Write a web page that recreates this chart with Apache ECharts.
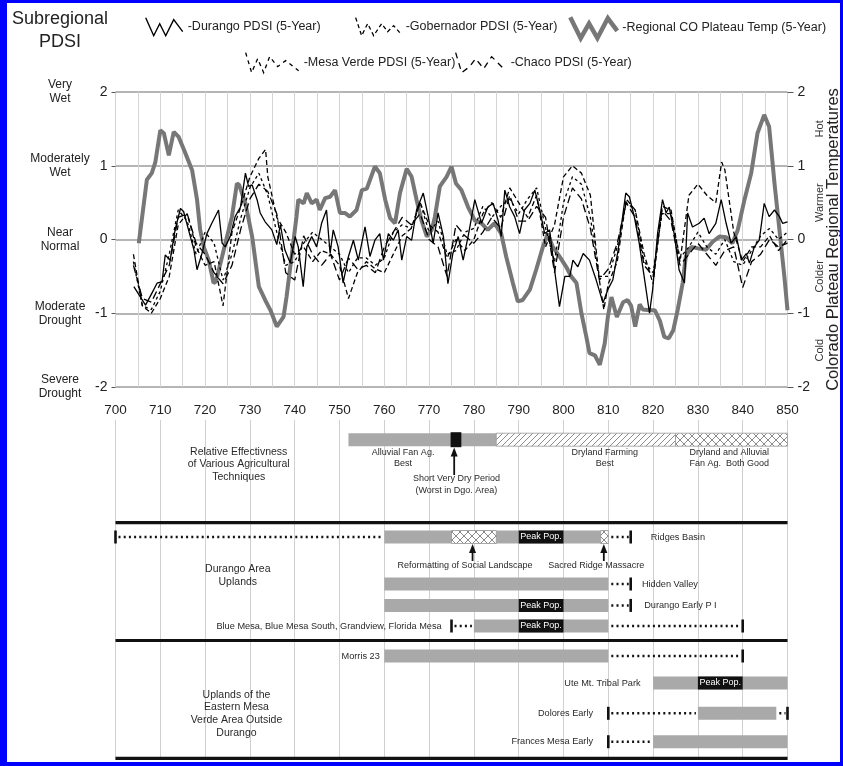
<!DOCTYPE html>
<html><head><meta charset="utf-8">
<script src="https://cdn.jsdelivr.net/npm/echarts@6/dist/echarts.min.js"></script>
<style>
html,body{margin:0;padding:0;background:#fff;}
#chart{width:843px;height:766px;}
#frame{position:absolute;left:0;top:0;width:843px;height:766px;box-sizing:border-box;border-style:solid;border-color:#0000ff;border-width:3px 3px 4px 7px;pointer-events:none;}
</style></head><body>
<div id="chart"></div><div id="frame"></div>
<script>
// ---------------- DATA ----------------
// Regional Colorado Plateau temperature (5-year), [year, value]
const tempCO = [[705.2,-0.05],[707,0.81],[708.1,0.9],[708.9,1.05],[710,1.48],[710.8,1.44],[711.9,1.14],[713,1.46],[714.1,1.39],[715.6,1.17],[717.1,0.94],[718.2,0.54],[718.9,0.13],[719.7,-0.1],[720.8,-0.28],[721.9,-0.59],[722.4,-0.57],[723.8,-0.23],[724.9,0.04],[726,0.31],[727.1,0.76],[727.6,0.74],[729,0.49],[730.5,0.04],[732,-0.64],[733.4,-0.82],[734.6,-0.96],[736,-1.18],[737.5,-1.05],[738.2,-0.77],[739.3,-0.23],[740.4,0.31],[740.8,0.54],[742,0.49],[742.7,0.63],[743.8,0.49],[744.9,0.54],[745.6,0.4],[746.8,0.56],[747.9,0.58],[749,0.67],[750.1,0.36],[751.2,0.36],[752.3,0.31],[753.8,0.4],[755,0.67],[756.1,0.69],[757.9,0.99],[759,0.9],[760.2,0.54],[761.3,0.29],[762.4,0.22],[763.5,0.63],[765,0.96],[766.1,0.85],[767.2,0.54],[768.3,0.26],[769.5,0.04],[770.6,0.13],[771.3,0.31],[772.4,0.72],[773.9,0.85],[775,0.99],[776,0.76],[777.2,0.67],[778.7,0.44],[780.2,0.26],[781.7,0.22],[783.1,0.13],[784.6,0.22],[786.1,0.08],[787.2,-0.23],[788.7,-0.59],[789.8,-0.84],[790.9,-0.82],[792.5,-0.68],[793.9,-0.41],[795.4,-0.1],[796.5,0.08],[797.6,-0.1],[799.1,-0.23],[800.6,-0.37],[801.7,-0.5],[802.9,-0.59],[804,-1.0],[805.1,-1.32],[805.8,-1.54],[807,-1.57],[808.1,-1.7],[809.2,-1.41],[809.9,-1.05],[810.7,-0.78],[811.9,-1.05],[813.3,-0.85],[814.3,-0.82],[815.1,-0.9],[816,-1.18],[817,-0.88],[817.7,-0.95],[819.3,-0.96],[820.4,-0.96],[821.5,-1.1],[822.5,-1.32],[823.5,-1.34],[824.5,-1.23],[825.5,-0.95],[826.6,-0.59],[827.3,-0.23],[828.5,-0.1],[830,-0.12],[831.8,-0.14],[833.3,-0.03],[834.8,0.04],[836.3,0.03],[837.7,-0.05],[838.9,0.13],[840.4,0.54],[841.9,0.9],[843.3,1.44],[844.8,1.69],[845.9,1.53],[847.1,0.76],[848.2,0.13],[849.3,-0.5],[850,-0.96]];

const durangoPDSI = [[704.1,-0.64],[706.7,-0.89],[708.1,-0.73],[709.3,-0.59],[710.4,-0.57],[711.1,-0.21],[712.2,-0.28],[713.3,0.13],[714.5,0.42],[715.2,0.38],[716.3,0.13],[717.5,-0.14],[718.2,-0.41],[719.3,-0.19],[720.4,0.08],[721.5,0.22],[723,0.4],[723.8,-0.05],[724.5,-0.1],[725.6,0.04],[726.7,0.31],[727.9,0.44],[729,0.9],[729.7,0.72],[730.5,0.74],[731.6,0.54],[732.3,0.36],[733.4,0.24],[734.9,0.13],[736,-0.07],[736.8,0.2],[737.8,-0.14],[739,-0.32],[740.1,0.04],[740.8,-0.1],[741.9,-0.64],[742.7,-0.1],[743.8,0.04],[744.9,-0.1],[746,0.22],[747.1,0.4],[747.9,-0.19],[748.6,0.13],[749.7,-0.1],[750.8,-0.59],[752,-0.23],[753.1,-0.01],[754.2,-0.28],[755.7,0.17],[756.8,-0.23],[757.9,-0.01],[759,0.08],[759.8,-0.28],[760.9,0.08],[762,-0.01],[763.1,0.13],[763.9,-0.28],[765,0.04],[766.1,-0.01],[767.2,0.4],[768.7,0.63],[769.8,0.31],[770.9,-0.05],[772,0.36],[773.2,0.04],[774.2,-0.6],[775.3,-0.19],[776.5,0.04],[777.6,-0.28],[778.7,0.04],[780.2,0.54],[781.7,0.22],[783.1,0.44],[784.3,0.49],[785.4,0.26],[786.1,0.04],[786.9,0.67],[788,0.44],[789.1,0.31],[790.2,0.08],[791.3,0.4],[792.5,0.49],[793.6,0.67],[794.7,0.4],[795.8,0.08],[796.9,0.13],[798,-0.41],[799.1,-0.91],[800.3,-0.5],[801.4,-0.5],[802.1,-0.28],[803.2,-0.37],[804.4,-0.19],[805.8,-0.28],[807.3,-0.55],[808.8,-0.86],[809.9,-0.68],[811,-0.55],[812.2,-0.14],[812.8,0.13],[813.9,0.63],[814.7,0.58],[815.8,0.31],[816.9,-0.05],[818,-0.5],[819.2,-1.0],[819.9,-0.68],[821,0.08],[822.1,0.54],[822.9,0.36],[823.6,0.44],[824.7,0.08],[825.8,-0.41],[827,-0.59],[827.7,0.36],[828.8,0.17],[830.3,0.22],[831.4,0.29],[832.5,0.08],[834,0.22],[835.2,0.54],[836.3,0.22],[837.4,-0.05],[838.6,0.04],[839.7,-0.28],[840.8,-0.19],[841.5,-0.32],[842.6,-0.1],[843.7,-0.01],[844.8,0.49],[845.9,0.31],[847.1,0.4],[848.2,0.31],[848.9,0.22],[850,0.24]];

const gobernadorPDSI = [[704,-0.2],[706,-0.9],[708,-1.0],[710,-0.8],[712,-0.5],[714,0.2],[716,0.35],[718,-0.1],[720,-0.35],[722,-0.3],[724,-0.9],[726,0.1],[728,0.45],[730,0.85],[732,1.1],[733.5,1.22],[734,0.85],[736,0.3],[738,0.1],[740,-0.2],[742,-0.1],[744,-0.3],[746,-0.15],[748,-0.2],[750,-0.35],[752,-0.8],[754,-0.45],[756,-0.3],[758,-0.4],[760,-0.45],[762,-0.2],[764,0.05],[766,0.15],[768,0.5],[770,0.2],[772,0.1],[774,-0.25],[776,0.0],[778,-0.15],[780,0.0],[782,0.35],[784,0.5],[786,0.3],[788,0.7],[790,0.5],[792,0.3],[794,0.6],[796,-0.1],[798,0.2],[800,0.85],[802,1.0],[804,0.9],[806,0.6],[808,-0.55],[809,-0.95],[810,-0.6],[812,-0.3],[814,0.55],[816,0.4],[818,-0.2],[820,-0.6],[822,0.45],[824,0.4],[826,-0.3],[828,0.6],[830,0.75],[832,0.6],[834,0.5],[835.3,1.05],[836,0.95],[838,0.1],[840,-0.3],[842,-0.1],[844,-0.1],[846,0.05],[848,-0.15],[850,0.0]];

const mesaVerdePDSI = [[704,-0.3],[706,-0.9],[708,-0.95],[710,-0.7],[712,-0.2],[714,0.4],[716,0.25],[718,-0.2],[720,0.1],[722,-0.05],[724,-0.55],[726,-0.2],[728,0.3],[730,0.7],[732,0.9],[734,0.6],[736,0.1],[738,-0.35],[740,-0.3],[742,-0.05],[744,0.1],[746,0.0],[748,-0.1],[750,-0.2],[752,-0.45],[754,-0.25],[756,-0.25],[758,-0.35],[760,-0.25],[762,0.1],[764,0.2],[766,0.15],[768,0.5],[770,0.1],[772,0.25],[774,-0.2],[776,-0.15],[778,0.1],[780,0.15],[782,0.45],[784,0.3],[786,0.45],[788,0.55],[790,0.35],[792,0.55],[794,0.7],[796,0.15],[798,-0.3],[800,0.5],[802,0.85],[804,0.75],[806,0.3],[808,-0.5],[810,-0.5],[812,-0.1],[814,0.5],[816,0.4],[818,-0.3],[820,-0.45],[822,0.35],[824,0.35],[826,-0.25],[828,-0.1],[830,0.1],[832,-0.1],[834,-0.2],[836,0.0],[838,-0.3],[840,-0.35],[842,-0.15],[844,0.05],[846,0.15],[848,0.0],[850,0.1]];

const chacoPDSI = [[704,-0.35],[706,-0.8],[708,-0.85],[710,-0.6],[712,-0.35],[714,0.3],[716,0.35],[718,-0.05],[720,-0.2],[722,-0.45],[724,-0.6],[726,-0.35],[728,0.15],[730,0.55],[732,0.75],[734,0.65],[736,0.35],[738,-0.45],[740,-0.55],[742,0.05],[744,-0.2],[746,-0.35],[748,-0.2],[750,-0.55],[752,-0.25],[754,-0.4],[756,-0.35],[758,-0.45],[760,-0.1],[762,0.1],[764,0.3],[766,0.2],[768,0.35],[770,0.0],[772,-0.1],[774,-0.5],[776,0.2],[778,0.05],[780,-0.05],[782,0.1],[784,0.3],[786,0.15],[788,0.6],[790,0.25],[792,0.25],[794,0.45],[796,0.3],[798,-0.45],[800,0.3],[802,0.7],[804,0.55],[806,0.15],[808,-0.55],[810,-0.4],[812,-0.05],[814,0.5],[816,0.3],[818,-0.35],[820,-0.5],[822,0.4],[824,0.25],[826,-0.35],[828,-0.2],[830,-0.05],[832,-0.2],[834,-0.35],[836,-0.15],[838,-0.1],[840,-0.65],[842,-0.3],[844,-0.2],[846,0.0],[848,-0.1],[850,-0.05]];

const pdsiClassLabels = {'2':'Very\nWet','1':'Moderately\nWet','0':'Near\nNormal','-1':'Moderate\nDrought','-2':'Severe\nDrought'};
const tempClassLabels = {'1.5':'Hot','0.5':'Warmer','-0.5':'Colder','-1.5':'Cold'};

// Occupation / technique timeline: [row, startYear, endYear]
const occupations = [['tech',752,785],['ridges',760,810],['hidden',760,810],['durangoEarly',760,810],['blueMesa',780,810],['morris',760,810],['ute',820,850],['dolores',830,847.5],['frances',820,850]];
const peakPeriods = [['ridges',790,800],['durangoEarly',790,800],['blueMesa',790,800],['ute',830,840]];
const veryDryPeriods = [['tech',774.8,777.2]];
const drylandPeriods = [['tech',785,825]];
const mixedPeriods = [['tech',825,850],['ridges',775,785],['ridges',808.3,810]];
const dottedSpans = [['ridges',700,760],['ridges',810,815],['hidden',810,815],['durangoEarly',810,815],['blueMesa',775,780],['blueMesa',810,840],['morris',810,840],['dolores',810,830],['dolores',847.5,850],['frances',810,820]];
const endMarks = [['ridges',700],['ridges',815],['hidden',815],['durangoEarly',815],['blueMesa',775],['blueMesa',840],['morris',840],['dolores',810],['dolores',850],['frances',810]];
const siteLabels = [['ridges',819.5,'Ridges Basin','left'],['hidden',817.5,'Hidden Valley','left'],['durangoEarly',818,'Durango Early P I','left'],['blueMesa',772.8,'Blue Mesa, Blue Mesa South, Grandview, Florida Mesa','right'],['morris',759,'Morris 23','right'],['ute',817.2,'Ute Mt. Tribal Park','right'],['dolores',806.6,'Dolores Early','right'],['frances',806.6,'Frances Mesa Early','right']];
const noteLabels = [['techNote',764.2,'Alluvial Fan Ag.\nBest'],['techNote',809.2,'Dryland Farming\nBest'],['techNote',837,'Dryland and Alluvial\nFan Ag.  Both Good'],['dryNote',776.1,'Short Very Dry Period\n(Worst in Dgo. Area)'],['eventNote',778,'Reformatting of Social Landscape'],['eventNote',807.3,'Sacred Ridge Massacre']];
const sectionTitles = [['techTitle',727.5,'Relative Effectivness\nof Various Agricultural\nTechniques'],['durangoTitle',727.3,'Durango Area\nUplands'],['eastTitle',727,'Uplands of the\nEastern Mesa\nVerde Area Outside\nDurango']];
const eventArrows = [[775.6,'dryArrowFrom','techArrowTo'],[779.7,'eventArrowFrom','ridgesArrowTo'],[809,'eventArrowFrom','ridgesArrowTo']];
const sectionRules = [['sep1',700,850],['sep2',700,850],['sep3',700,850]];

// lane positions on the timeline axis (0 = top, 34 = bottom)
const LANE = {tech:1.97, techNote:3.8, techArrowTo:2.75, dryArrowFrom:5.5, dryNote:6.45, techTitle:4.45, sep1:10.27, ridges:11.7, ridgesArrowTo:12.4, eventArrowFrom:14.1, eventNote:14.6, durangoTitle:15.55, hidden:16.4, durangoEarly:18.54, blueMesa:20.6, sep2:22.05, morris:23.6, ute:26.3, eastTitle:29.37, dolores:29.33, frances:32.17, sep3:33.83};

// ---------------- RENDER ----------------
const FONT = "'Liberation Sans', Arial, Helvetica, sans-serif";
const BAR_H = 13;

function makePattern(cross) {
  const n = cross ? 8 : 6;
  const c = document.createElement('canvas'); c.width = n; c.height = n;
  const g = c.getContext('2d');
  g.fillStyle = '#fff'; g.fillRect(0,0,n,n);
  g.strokeStyle = '#8a8a8a'; g.lineWidth = 1;
  g.beginPath();
  g.moveTo(0,n); g.lineTo(n,0); g.moveTo(-1,1); g.lineTo(1,-1); g.moveTo(n-1,n+1); g.lineTo(n+1,n-1);
  if (cross) { g.moveTo(0,0); g.lineTo(n,n); g.moveTo(-1,n-1); g.lineTo(1,n+1); g.moveTo(n-1,-1); g.lineTo(n+1,1); }
  g.stroke();
  return {image: c, repeat: 'repeat'};
}
const hatchFill = makePattern(false);
const crossFill = makePattern(true);

const spanData = arr => arr.map(d => [d[1], d[2], LANE[d[0]]]);
function span(api) {
  const a = api.coord([api.value(0), api.value(2)]);
  const b = api.coord([api.value(1), api.value(2)]);
  return {x0:a[0], x1:b[0], y:a[1]};
}
function rectSeries(arr, styleFn, extra, h) {
  const hh = h || BAR_H;
  return {type:'custom', xAxisIndex:1, yAxisIndex:4, silent:true, encode:{x:[0,1], y:2}, data: spanData(arr),
    renderItem:(p, api) => {
      const s = span(api);
      const rect = {type:'rect', shape:{x:s.x0, y:s.y-hh/2, width:s.x1-s.x0, height:hh}, style:styleFn()};
      if (!extra) return rect;
      return {type:'group', children:[rect, extra(s)]};
    }};
}
function lineSeriesPDSI(name, data, dash) {
  return {name, type:'line', xAxisIndex:0, yAxisIndex:0, data, symbol:'none', z:3,
    lineStyle:{color:'#000', width:1.3, type: dash || 'solid'}, emphasis:{disabled:true}};
}
function legendOne(name, left, top, w, h, icon, style) {
  return {data:[{name, icon}], left, top, itemWidth:w, itemHeight:h, padding:0, selectedMode:false,
    formatter:'-{name}', textStyle:{fontSize:12.5, color:'#222', fontFamily:FONT},
    itemStyle:Object.assign({color:'rgba(0,0,0,0)'}, style)};
}

const option = {
  animation:false,
  backgroundColor:'#fff',
  textStyle:{fontFamily:FONT},
  graphic:[{type:'text', x:60, y:8, style:{text:'Subregional\nPDSI', align:'center', verticalAlign:'top', fontSize:18, lineHeight:23, fill:'#222', fontFamily:FONT}}],
  legend:[
    legendOne('Durango PDSI (5-Year)',145,17,37,20,'path://M0,1 L8,19 L14,7 L20,19 L28,3 L37,15',{borderColor:'#000',borderWidth:1.4}),
    legendOne('Gobernador PDSI (5-Year)',355,17,45,20,'path://M0,0 L6,18 L12,6 L18,18 L26,6 L32,14 L38,8 L45,16',{borderColor:'#000',borderWidth:1.3,borderType:[4,3]}),
    legendOne('Regional CO Plateau Temp (5-Year)',568,15,47,24,'path://M2,2 L12,22 L20,8 L28,22 L38,3 L47,15',{borderColor:'#777',borderWidth:4.5}),
    legendOne('Mesa Verde PDSI (5-Year)',245,52,53,22,'path://M0,0 L6,20 L12,6 L18,20 L24,4 L32,14 L40,8 L53,18',{borderColor:'#000',borderWidth:1.3,borderType:[4,4]}),
    legendOne('Chaco PDSI (5-Year)',455,52,50,22,'path://M0,0 L6,20 L14,14 L20,6 L28,16 L36,4 L50,18',{borderColor:'#000',borderWidth:1.3,borderType:[6,5]})
  ],
  grid:[{left:115.5, right:55.5, top:92, height:295, outerBoundsMode:'none', containLabel:false},
        {left:115.5, right:55.5, top:420, height:340, outerBoundsMode:'none', containLabel:false}],
  xAxis:[
    {type:'value', gridIndex:0, min:700, max:850, interval:5, axisLine:{show:false}, axisTick:{show:false},
     axisLabel:{fontSize:13.5, color:'#222', margin:16, formatter:v => (v % 10 === 0 ? String(v) : '')},
     splitLine:{show:true, lineStyle:{color:'#d4d4d4', width:1}}},
    {type:'value', gridIndex:1, min:700, max:850, interval:10, axisLine:{show:false}, axisTick:{show:false}, axisLabel:{show:false},
     splitLine:{show:true, lineStyle:{color:'#d0d0d0', width:1}}}
  ],
  yAxis:[
    {type:'value', gridIndex:0, position:'left', min:-2, max:2, interval:1, axisLine:{show:false},
     axisTick:{show:true, length:4, lineStyle:{color:'#555'}}, axisLabel:{fontSize:14, color:'#222', margin:8},
     splitLine:{show:true, lineStyle:{color:'#9c9c9c', width:1.5}}},
    {type:'value', gridIndex:0, position:'left', min:-2, max:2, interval:1, axisLine:{show:false}, axisTick:{show:false}, splitLine:{show:false},
     axisLabel:{margin:55.5, align:'center', fontSize:12, lineHeight:14, color:'#222', formatter:v => pdsiClassLabels[String(v)] || ''}},
    {type:'value', gridIndex:0, position:'right', min:-2, max:2, interval:1, axisLine:{show:false},
     axisTick:{show:true, length:6, lineStyle:{color:'#555'}}, axisLabel:{fontSize:14, color:'#222', margin:10}, splitLine:{show:false}},
    {type:'value', gridIndex:0, position:'right', min:-2, max:2, interval:0.5, name:'Colorado Plateau Regional Temperatures',
     nameLocation:'middle', nameRotate:90, nameGap:37, nameMoveOverlap:false, nameTextStyle:{fontSize:16.5, color:'#222'},
     axisLine:{show:false}, axisTick:{show:false}, splitLine:{show:false},
     axisLabel:{rotate:90, margin:27, fontSize:11, color:'#333', formatter:v => tempClassLabels[String(v)] || ''}},
    {type:'value', gridIndex:1, min:0, max:34, inverse:true, show:false}
  ],
  series:[
    {name:'Regional CO Plateau Temp (5-Year)', type:'line', xAxisIndex:0, yAxisIndex:2, data:tempCO, symbol:'none', z:2,
     lineStyle:{color:'#777', width:4}, emphasis:{disabled:true}},
    lineSeriesPDSI('Durango PDSI (5-Year)', durangoPDSI),
    lineSeriesPDSI('Gobernador PDSI (5-Year)', gobernadorPDSI, [5,3]),
    lineSeriesPDSI('Mesa Verde PDSI (5-Year)', mesaVerdePDSI, [3,3]),
    lineSeriesPDSI('Chaco PDSI (5-Year)', chacoPDSI, [8,4]),
    // timeline
    rectSeries(occupations, () => ({fill:'#a9a9a9'})),
    rectSeries(drylandPeriods, () => ({fill:hatchFill, stroke:'#999', lineWidth:0.8})),
    rectSeries(mixedPeriods, () => ({fill:crossFill, stroke:'#999', lineWidth:0.8})),
    rectSeries(veryDryPeriods, () => ({fill:'#111'}), null, 15),
    rectSeries(peakPeriods, () => ({fill:'#111'}), s => ({type:'text', x:(s.x0+s.x1)/2, y:s.y,
      style:{text:'Peak Pop.', align:'center', verticalAlign:'middle', fontSize:9, fill:'#fff', fontFamily:FONT}})),
    {type:'custom', xAxisIndex:1, yAxisIndex:4, silent:true, encode:{x:[0,1], y:2}, data:spanData(dottedSpans),
     renderItem:(p, api) => { const s = span(api);
       return {type:'line', shape:{x1:s.x0+3, y1:s.y, x2:s.x1-2, y2:s.y}, style:{stroke:'#111', lineWidth:2.5, lineDash:[2,3.2]}}; }},
    {type:'custom', xAxisIndex:1, yAxisIndex:4, silent:true, encode:{x:0, y:1}, data:endMarks.map(d => [d[1], LANE[d[0]]]),
     renderItem:(p, api) => { const c = api.coord([api.value(0), api.value(1)]);
       return {type:'line', shape:{x1:c[0], y1:c[1]-6.5, x2:c[0], y2:c[1]+6.5}, style:{stroke:'#111', lineWidth:2.6}}; }},
    {type:'custom', xAxisIndex:1, yAxisIndex:4, silent:true, encode:{x:[0,1], y:2}, data:spanData(sectionRules),
     renderItem:(p, api) => { const s = span(api);
       return {type:'line', shape:{x1:s.x0, y1:s.y, x2:s.x1, y2:s.y}, style:{stroke:'#111', lineWidth:3.2}}; }},
    {type:'custom', xAxisIndex:1, yAxisIndex:4, silent:true, encode:{x:0, y:1}, data:eventArrows.map(d => [d[0], LANE[d[1]], LANE[d[2]]]),
     renderItem:(p, api) => { const a = api.coord([api.value(0), api.value(1)]); const b = api.coord([api.value(0), api.value(2)]);
       return {type:'group', children:[
         {type:'line', shape:{x1:a[0], y1:a[1], x2:b[0], y2:b[1]+6}, style:{stroke:'#111', lineWidth:1.8}},
         {type:'polygon', shape:{points:[[b[0],b[1]],[b[0]-3.5,b[1]+9],[b[0]+3.5,b[1]+9]]}, style:{fill:'#111'}}]}; }},
    {type:'custom', xAxisIndex:1, yAxisIndex:4, silent:true, encode:{x:0, y:1}, data:siteLabels.map(d => [d[1], LANE[d[0]]]),
     renderItem:(p, api) => { const c = api.coord([api.value(0), api.value(1)]); const d = siteLabels[p.dataIndex];
       return {type:'text', x:c[0], y:c[1], style:{text:d[2], align:d[3], verticalAlign:'middle', fontSize:9.2, fill:'#2a2a2a', fontFamily:FONT}}; }},
    {type:'custom', xAxisIndex:1, yAxisIndex:4, silent:true, encode:{x:0, y:1}, data:noteLabels.map(d => [d[1], LANE[d[0]]]),
     renderItem:(p, api) => { const c = api.coord([api.value(0), api.value(1)]); const d = noteLabels[p.dataIndex];
       return {type:'text', x:c[0], y:c[1], style:{text:d[2], align:'center', verticalAlign:'middle', fontSize:9, lineHeight:11.5, fill:'#2a2a2a', fontFamily:FONT}}; }},
    {type:'custom', xAxisIndex:1, yAxisIndex:4, silent:true, encode:{x:0, y:1}, data:sectionTitles.map(d => [d[1], LANE[d[0]]]),
     renderItem:(p, api) => { const c = api.coord([api.value(0), api.value(1)]); const d = sectionTitles[p.dataIndex];
       return {type:'text', x:c[0], y:c[1], style:{text:d[2], align:'center', verticalAlign:'middle', fontSize:10.5, lineHeight:12.7, fill:'#2a2a2a', fontFamily:FONT}}; }}
  ]
};

const chart = echarts.init(document.getElementById('chart'), null, {renderer:'canvas'});
chart.setOption(option);
</script></body></html>
